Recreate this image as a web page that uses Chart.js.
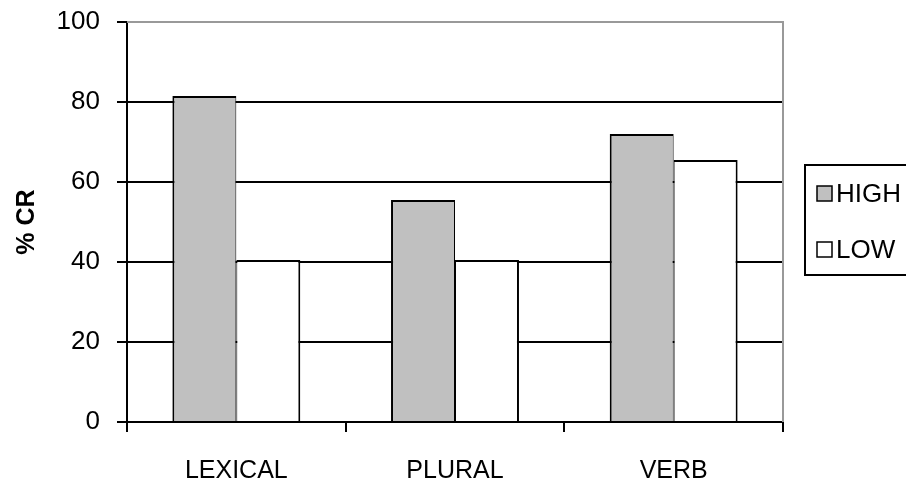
<!DOCTYPE html>
<html>
<head>
<meta charset="utf-8">
<script src="https://cdn.jsdelivr.net/npm/chart.js@4/dist/chart.umd.min.js"></script>
<style>
  html, body { margin: 0; padding: 0; background: #fff; }
  #wrap { width: 906px; height: 490px; }
</style>
</head>
<body>
<div id="wrap"><canvas id="chart" width="906" height="490"></canvas></div>
<script>
// data
const categories = ['LEXICAL', 'PLURAL', 'VERB'];
const highValues = [81.5, 55.5, 72];
const lowValues = [40.5, 40.5, 65.5];
const seriesNames = ['HIGH', 'LOW'];
const yTicks = [0, 20, 40, 60, 80, 100];

const FONT = "'Liberation Sans', Arial, sans-serif";

// boxed legend on the right, like the original
const boxLegend = {
  id: 'boxLegend',
  afterDraw(chart) {
    const ctx = chart.ctx;
    const area = chart.chartArea;
    const left = area.right + 22;
    const top = area.top + 143;
    ctx.save();
    ctx.strokeStyle = '#000';
    ctx.lineWidth = 2;
    ctx.strokeRect(left, top, 200, 110);
    chart.data.datasets.forEach((ds, i) => {
      const cy = top + 29 + i * 56;
      ctx.fillStyle = ds.backgroundColor;
      ctx.fillRect(left + 12, cy - 8, 15, 15);
      ctx.lineWidth = 1.5;
      ctx.strokeRect(left + 12, cy - 8, 15, 15);
      ctx.fillStyle = '#000';
      ctx.font = '26px ' + FONT;
      ctx.textBaseline = 'middle';
      ctx.fillText(ds.label, left + 31, cy + 1);
    });
    // grey frame on top and right of plot
    ctx.strokeStyle = '#999';
    ctx.lineWidth = 2;
    ctx.beginPath();
    ctx.moveTo(area.left, area.top);
    ctx.lineTo(area.right, area.top);
    ctx.lineTo(area.right, area.bottom);
    ctx.stroke();
    ctx.restore();
  }
};

new Chart(document.getElementById('chart'), {
  type: 'bar',
  data: {
    labels: categories,
    datasets: [
      {
        label: seriesNames[0],
        data: highValues,
        backgroundColor: '#c0c0c0',
        borderColor: '#000',
        borderWidth: { top: 2, left: 2, right: 1, bottom: 0 }
      },
      {
        label: seriesNames[1],
        data: lowValues,
        backgroundColor: '#ffffff',
        borderColor: '#000',
        borderWidth: { top: 2, left: 1, right: 2, bottom: 0 }
      }
    ]
  },
  options: {
    responsive: false,
    animation: false,
    layout: { padding: { left: 0, top: 22, right: 123, bottom: 0 } },
    categoryPercentage: 0.585,
    barPercentage: 1.0,
    plugins: {
      legend: { display: false },
      tooltip: { enabled: false }
    },
    scales: {
      x: {
        afterFit: s => { s.height = 68; s.paddingLeft = 0; s.paddingRight = 0; },
        border: { color: '#000', width: 2 },
        grid: { drawOnChartArea: false, tickLength: 10, tickColor: '#000', lineWidth: 2 },
        ticks: { color: '#000', padding: 24, font: { family: FONT, size: 25 } }
      },
      y: {
        min: 0,
        max: 100,
        afterFit: s => { s.width = 127; s.paddingTop = 0; s.paddingBottom = 0; },
        afterBuildTicks: s => { s.ticks = yTicks.map(v => ({ value: v })); },
        border: { color: '#000', width: 2 },
        grid: {
          color: c => (c.tick && c.tick.value === 100 ? '#999' : '#000'),
          lineWidth: 2,
          tickLength: 10,
          tickColor: '#000'
        },
        ticks: { color: '#000', padding: 17, font: { family: FONT, size: 26 } },
        title: {
          display: true,
          text: '% CR',
          color: '#000',
          padding: { top: 12, bottom: 0 },
          font: { family: FONT, size: 25, weight: 'bold' }
        }
      }
    }
  },
  plugins: [boxLegend]
});
</script>
</body>
</html>
